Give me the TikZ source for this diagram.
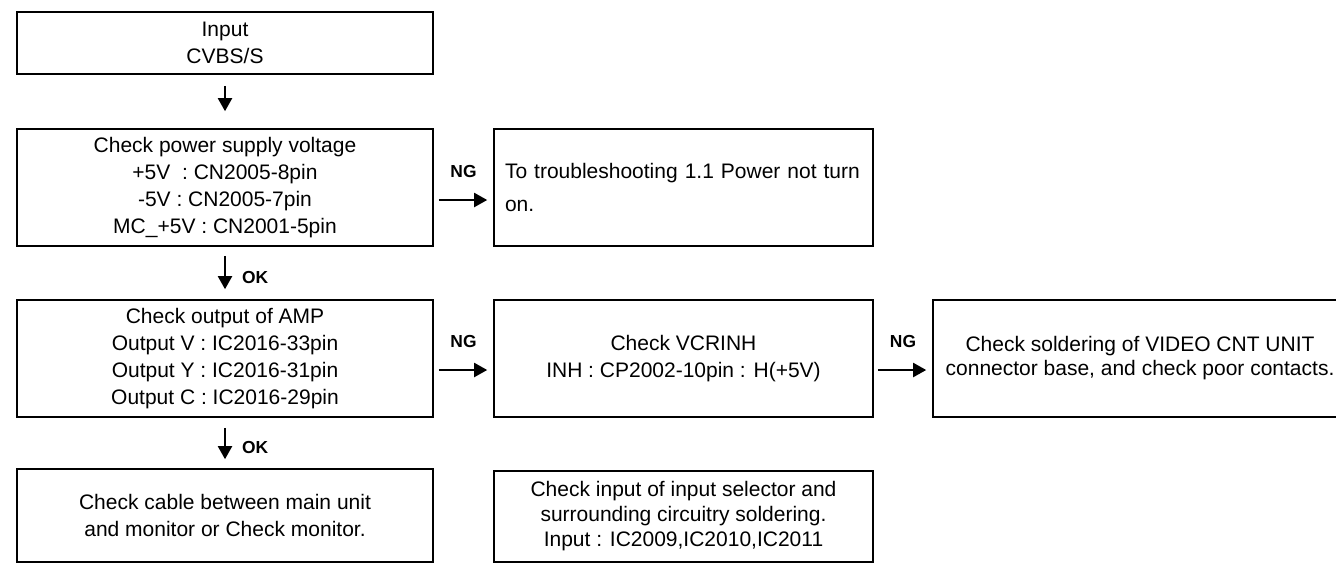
\documentclass[tikz,border=0pt]{standalone}
\usepackage{fontspec}
\setmainfont{Liberation Sans}
\usetikzlibrary{arrows.meta}

\begin{document}
\begin{tikzpicture}[x=0.5pt, y=-0.5pt]
        \tikzstyle{box} = [draw, line width=0.8pt, rectangle, align=center, inner sep=0pt, font=\fontsize{10.5}{13.5}\selectfont]
        \tikzstyle{arr} = [-{Triangle[length=6.5pt, width=7pt]}, line width=1pt]
        \tikzstyle{lbl} = [font=\bfseries\fontsize{8.7}{10}\selectfont, inner sep=0pt]
        \useasboundingbox (0,0) rectangle (1336,563);
        \node[box, minimum width=208pt, minimum height=31pt] (inp) at (225, 43) {Input\\CVBS/S};
        \node[box, minimum width=208pt, minimum height=58.5pt] (pwr) at (225, 187.5) {Check power supply voltage\\+5V~~: CN2005-8pin\\-5V : CN2005-7pin\\MC\_+5V : CN2001-5pin};
        \node[box, align=left, text width=178.5pt, inner xsep=5.5pt, minimum height=58.5pt, font=\fontsize{10.5}{16.4}\selectfont] (trb) at (683.5, 187.5) {To troubleshooting 1.1 Power not turn\\on.\par\vspace{5pt}};
        \node[box, minimum width=208pt, minimum height=58.5pt] (amp) at (225, 358.5) {Check output of AMP\\Output V : IC2016-33pin\\Output Y : IC2016-31pin\\Output C : IC2016-29pin};
        \node[box, minimum width=189.5pt, minimum height=58.5pt] (vcr) at (683.5, 358.5) {Check VCRINH\\INH : CP2002-10pin : H(+5V)};
        \node[box, minimum width=207pt, minimum height=58.5pt, font=\fontsize{10.5}{12}\selectfont] (sol) at (1140, 358.5) {Check soldering of VIDEO CNT UNIT\\connector base, and check poor contacts.};
        \node[box, minimum width=208pt, minimum height=46.5pt] (cab) at (225, 515.5) {Check cable between main unit\\and monitor or Check monitor.};
        \node[box, minimum width=189.5pt, minimum height=45.5pt, font=\fontsize{10.5}{12.5}\selectfont] (sel) at (683.5, 516.5) {Check input of input selector and\\surrounding circuitry soldering.\\Input : IC2009,IC2010,IC2011};
        \draw[arr, shorten <=5.5pt, shorten >=8.5pt] (inp) -- (pwr);
        \draw[arr, shorten <=4.5pt, shorten >=5pt] (pwr) -- (amp) node[lbl, midway, right=8pt, yshift=-2.25pt] {OK};
        \draw[arr, shorten <=5pt, shorten >=4.5pt] (amp) -- (cab) node[lbl, midway, right=8pt, yshift=-2.25pt] {OK};
        \draw[arr, shorten <=2.5pt, shorten >=3pt] ([yshift=-6.25pt]pwr.east) -- ([yshift=-6.25pt]trb.west) node[lbl, midway, above=10.5pt] {NG};
        \draw[arr, shorten <=2.5pt, shorten >=3pt] ([yshift=-5.75pt]amp.east) -- ([yshift=-5.75pt]vcr.west) node[lbl, midway, above=10.5pt] {NG};
        \draw[arr, shorten <=2pt, shorten >=3pt] ([yshift=-5.75pt]vcr.east) -- ([yshift=-5.75pt]sol.west) node[lbl, midway, above=10.5pt] {NG};
      \end{tikzpicture}
\end{document}
